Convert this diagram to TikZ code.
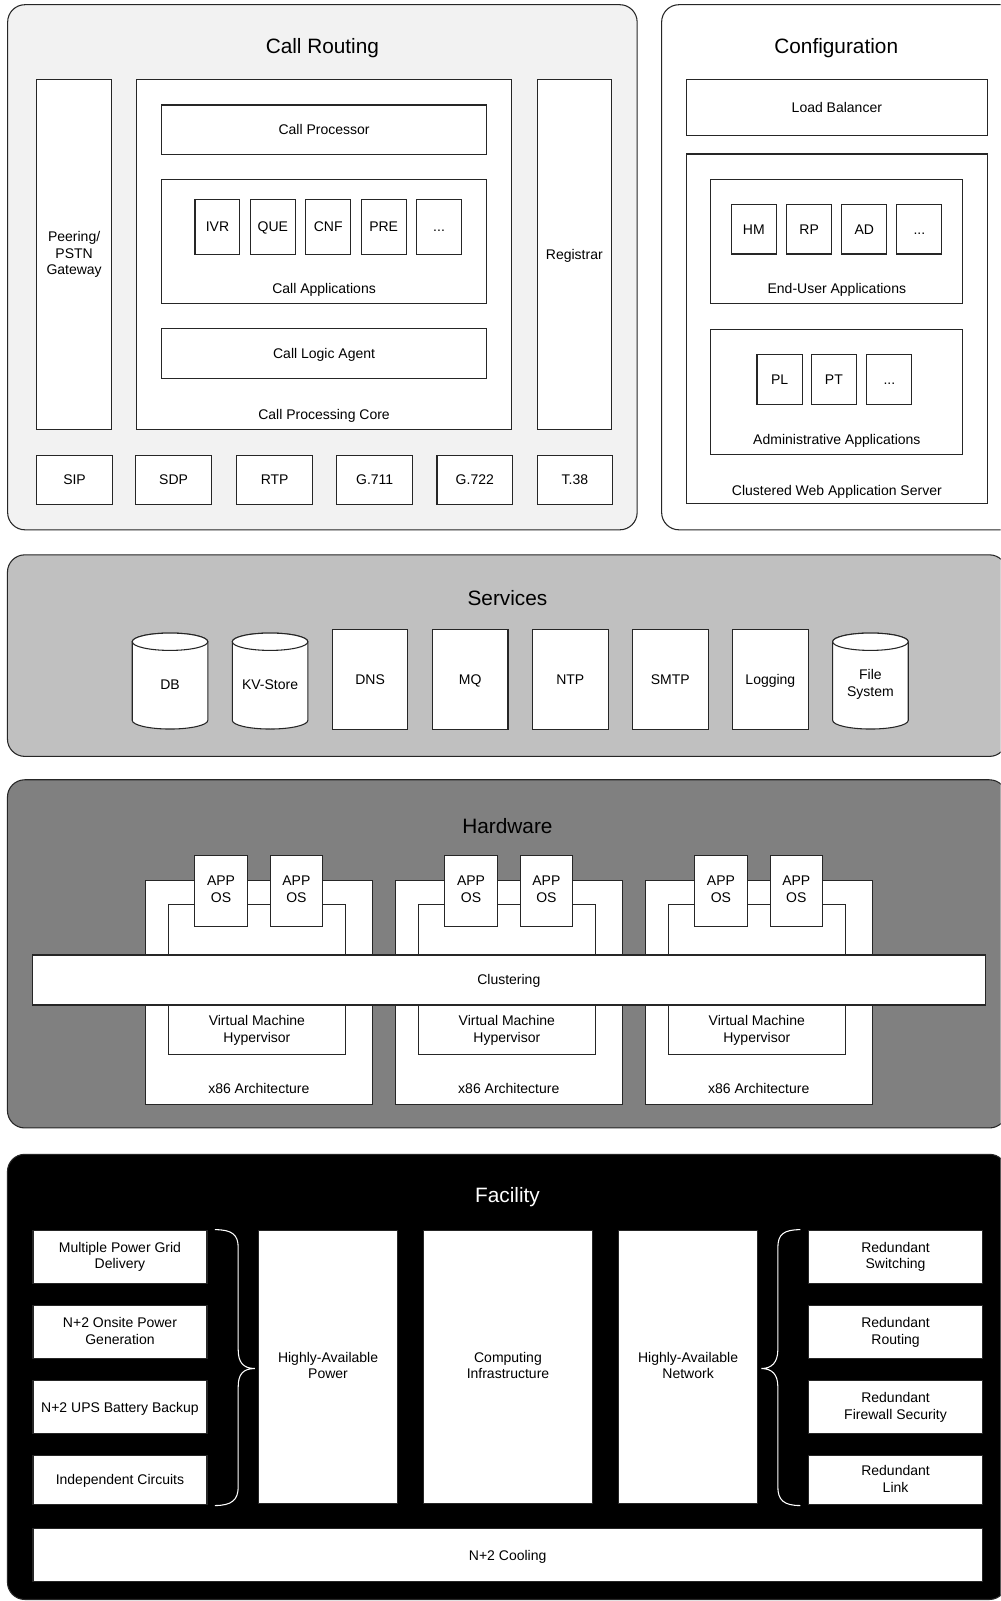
\documentclass[tikz,border=0pt]{standalone}
\usepackage{fontspec}
\setmainfont{Liberation Sans}
\usetikzlibrary{positioning}
\newcommand{\pxu}{0.766pt}
\newcommand{\moredots}{...}
\newcommand{\linestrut}{\rule[-2pt]{0pt}{11.5pt}}
\newcommand{\titlestrut}{\rule[-3pt]{0pt}{17.2pt}}

\begin{document}
\begin{tikzpicture}[x=\pxu, y=-\pxu,
  every node/.style={font=\fontsize{10.5}{12.6}\selectfont, align=center, inner sep=0pt,
    execute at begin node=\linestrut, execute at end node=\linestrut},
  box/.style={draw=black!85, fill=white, line width=0.8pt},
  panel/.style={draw=black!85, line width=0.8pt, rounded corners=13pt},
  sz/.style 2 args={minimum width=#1*\pxu, minimum height=#2*\pxu},
  title/.style={font=\fontsize{15.6}{18}\selectfont,
    execute at begin node=\titlestrut, execute at end node=\titlestrut},
  brace/.style={draw=white, line width=0.8pt}]

\path[use as bounding box, fill=white] (0,0) rectangle (980,1568);
\clip (0,0) rectangle (980,1568);

% --- Call Routing ---
\node[panel, fill=gray!10, sz={616.5}{514.3}] (callrouting) at (315.75,261.75) {};
\node[title] (crTitle) at (315.75,45.7) {Call Routing};
\node[box, sz={73.4}{343.3}] (gw) at (72.6,249.3) {Peering/\\PSTN\\Gateway\linestrut};
\node[box, sz={367.2}{343.3}] (core) at (317.4,249.3) {};
\node (coreLbl) at (317.4,405.7) {Call Processing Core};
\node[box, sz={318.2}{48.3}] (proc) at (317.4,127) {Call Processor};
\node[box, sz={318.2}{121.4}] (apps) at (317.4,236.9) {};
\node (appsLbl) at (317.4,282.8) {Call Applications};
\foreach \cx/\nm/\txt in {213/ivr/IVR, 267.25/que/QUE, 321.5/cnf/CNF, 375.75/pre/PRE, 430/more/\moredots}
  \node[box, sz={44}{53.8}] (\nm) at (\cx,222.1) {\txt};
\node[box, sz={318.2}{49}] (agent) at (317.4,346.5) {Call Logic Agent};
\node[box, sz={73}{343.3}] (reg) at (562.5,249.3) {Registrar};
\foreach \cx/\nm/\txt in {73/sip/SIP, 170/sdp/SDP, 269/rtp/RTP, 367/g711/G.711, 465/g722/G.722, 563/t38/T.38}
  \node[box, sz={74}{48.5}] (\nm) at (\cx,470) {\txt};

% --- Configuration ---
\node[panel, fill=white, sz={350}{514.3}] (config) at (823,261.75) {};
\node[title] (cfgTitle) at (819,45.7) {Configuration};
\node[box, sz={294.7}{54.5}] (lb) at (819.6,105) {Load Balancer};
\node[box, sz={294.7}{342.6}] (websrv) at (819.6,322.1) {};
\node (websrvLbl) at (819.6,480.4) {Clustered Web Application Server};
\node[box, sz={247}{121.4}] (euapps) at (819.6,236.9) {};
\node (euappsLbl) at (819.6,283) {End-User Applications};
\foreach \cx/\nm/\txt in {738.3/hm/HM, 792.5/rp/RP, 846.5/ad/AD, 900.4/eumore/\moredots}
  \node[box, sz={44.2}{48.7}] (\nm) at (\cx,224.4) {\txt};
\node[box, sz={247}{123.1}] (admapps) at (819.6,384) {};
\node (admappsLbl) at (819.6,430.1) {Administrative Applications};
\foreach \cx/\nm/\txt in {763.5/pl/PL, 816.7/pt/PT, 871/admmore/\moredots}
  \node[box, sz={44.2}{49}] (\nm) at (\cx,371.4) {\txt};

% --- Services ---
\node[panel, fill={rgb,255:red,192;green,192;blue,192}, sz={978.7}{197.4}] (services) at (496.65,642.1) {};
\node[title] (svcTitle) at (497,585.8) {Services};
\foreach \cx/\nm/\txt in {166.5/db/DB, 264.5/kv/KV-Store, 852.5/fs/{File\\System\linestrut}} {
  \draw[box] (\cx-37,628.5) -- (\cx-37,705.5) arc[start angle=180, end angle=0, x radius=37, y radius=8.5]
    -- (\cx+37,628.5) arc[start angle=0, end angle=-180, x radius=37, y radius=8.5] -- cycle;
  \draw[box] (\cx,628.5) ellipse[x radius=37, y radius=8.5];
  \node (\nm) at (\cx,670.5) {\txt};
}
\foreach \cx/\nm/\txt in {362.5/dns/DNS, 460.5/mq/MQ, 558.5/ntp/NTP, 656.5/smtp/SMTP, 754.5/logging/Logging}
  \node[box, sz={74}{97.2}] (\nm) at (\cx,665.4) {\txt};

% --- Hardware ---
\node[panel, fill={rgb,255:red,128;green,128;blue,128}, sz={978.7}{341}] (hardware) at (496.65,934.2) {};
\node[title] (hwTitle) at (497,808.7) {Hardware};
\foreach \i/\cx in {1/253.5, 2/498.3, 3/743.1} {
  \node[box, sz={221.9}{219.7}] (xarch\i) at (\cx,972) {};
  \node[box, sz={173.6}{147.2}] (hyp\i) at (\cx-1.9,959.6) {};
  \node[box, sz={51.2}{69.8}] (appA\i) at (\cx-37,872.3) {APP\\OS\linestrut};
  \node[box, sz={51.2}{69.8}] (appB\i) at (\cx+36.8,872.3) {APP\\OS\linestrut};
  \node (hypLbl\i) at (\cx-1.9,1009.2) {Virtual Machine\\Hypervisor\linestrut};
  \node (xarchLbl\i) at (\cx,1066.2) {x86 Architecture};
}
\node[box, sz={933.3}{49}] (clustering) at (498.3,959.8) {Clustering};

% --- Facility ---
\node[panel, fill=black, sz={978.7}{436}] (facility) at (496.65,1348.5) {};
\node[title, text=white] (facTitle) at (497,1171) {Facility};
\foreach \nm/\cy/\h/\txt in {grid/1231/51.6/{Multiple Power Grid\\Delivery\linestrut},
    gen/1304.8/51.6/{N+2 Onsite Power\\Generation\linestrut},
    ups/1378.2/51.6/{N+2 UPS Battery Backup}, circ/1449.5/47.3/{Independent Circuits}}
  \node[box, sz={170.4}{\h}] (\nm) at (117.5,\cy) {\txt};
\foreach \nm/\cy/\h/\txt in {switching/1231/51.6/{Redundant\\Switching\linestrut},
    routing/1304.8/51.6/{Redundant\\Routing\linestrut},
    firewall/1378.2/51.6/{Redundant\\Firewall Security\linestrut}, link/1449.5/47.3/{Redundant\\Link\linestrut}}
  \node[box, sz={170}{\h}] (\nm) at (877.1,\cy) {\txt};
\node[box, sz={136}{267.2}] (power) at (321.3,1338.6) {Highly-Available\\Power\linestrut};
\node[box, sz={165}{267.2}] (computing) at (497.5,1338.6) {Computing\\Infrastructure\linestrut};
\node[box, sz={135.8}{267.2}] (network) at (673.9,1338.6) {Highly-Available\\Network\linestrut};
\node[box, sz={929.8}{51.6}] (cooling) at (497.2,1523.1) {N+2 Cooling};

% braces
\draw[brace] (210.5,1204.3) .. controls (227,1204.3) and (233.3,1209) .. (233.3,1222)
  -- (233.3,1322) .. controls (233.3,1334) and (238,1340.3) .. (249.7,1340.3)
  .. controls (238,1340.3) and (233.3,1346) .. (233.3,1358)
  -- (233.3,1456) .. controls (233.3,1469) and (227,1474.5) .. (210.5,1474.5);
\draw[brace] (783.9,1204.3) .. controls (767.4,1204.3) and (761.8,1209) .. (761.8,1222)
  -- (761.8,1322) .. controls (761.8,1334) and (756,1340.3) .. (745.7,1340.3)
  .. controls (756,1340.3) and (761.8,1346) .. (761.8,1358)
  -- (761.8,1456) .. controls (761.8,1469) and (767.4,1474.5) .. (783.9,1474.5);

\end{tikzpicture}
\end{document}
